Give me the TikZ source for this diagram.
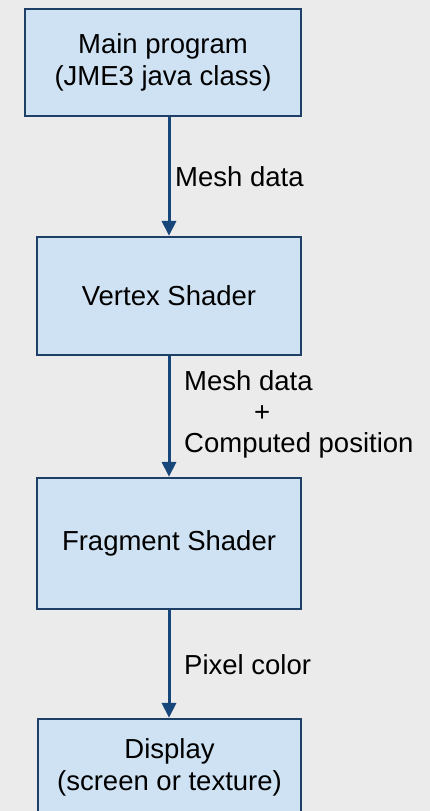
\documentclass[tikz,border=0pt]{standalone}
\usepackage{fontspec}
\setmainfont{Liberation Sans}
\usetikzlibrary{arrows.meta}
\definecolor{bg}{HTML}{EBEBEB}
\definecolor{boxfill}{HTML}{CFE2F3}
\definecolor{boxline}{HTML}{1E3F66}
\definecolor{arrowcol}{HTML}{17467A}
\tikzset{
  box/.style={draw=boxline, fill=boxfill, line width=2.2pt, align=center,
    font=\fontsize{27.5}{32}\selectfont, inner sep=0pt},
  lbl/.style={font=\fontsize{27.5}{31}\selectfont, inner sep=0pt, align=left},
  arr/.style={draw=arrowcol, line width=3pt, -{Triangle[length=15pt,width=14pt]}}
}
\begin{document}
\begin{tikzpicture}[x=1pt,y=-1pt]
\useasboundingbox (0,0) rectangle (430,811);
\fill[bg] (0,0) rectangle (430,811);
\begin{scope}
\clip (0,0) rectangle (430,811);
\node[box, minimum width=276pt, minimum height=107pt] (main) at (163,62.5) {Main program\\(JME3 java class)};
\node[box, minimum width=264pt, minimum height=118pt] (vert) at (169,296) {Vertex Shader};
\node[box, minimum width=264pt, minimum height=131pt] (frag) at (169,543.5) {Fragment Shader};
\node[box, minimum width=263pt, minimum height=97pt] (disp) at (169.5,767.5) {Display\\(screen or texture)};
\end{scope}
\draw[arr] (main.south -| vert.north) -- (vert.north);
\draw[arr] (vert.south) -- (frag.north);
\draw[arr] (frag.south) -- (frag.south |- disp.north);
\node[lbl, anchor=base west] (l1) at (175,186) {Mesh data};
\node[lbl, anchor=west] (l2) at (184,414) {Mesh data\\\hspace*{70pt}+\\Computed position};
\node[lbl, anchor=base west] (l3) at (184,674) {Pixel color};
\end{tikzpicture}
\end{document}
